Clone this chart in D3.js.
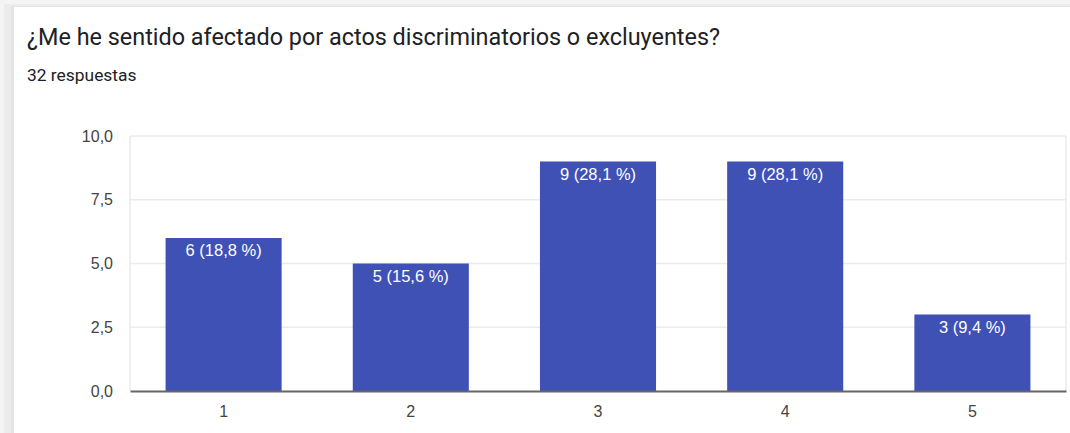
<!DOCTYPE html>
<html>
<head>
<meta charset="utf-8">
<script src="https://cdn.jsdelivr.net/npm/d3@7"></script>
<style>
	body { margin: 0; background: #f3f3f3; }
	svg { display: block; }
</style>
</head>
<body>
<div id="chart"></div>
<script>
// data
const categories = ["1", "2", "3", "4", "5"];
const counts = [6, 5, 9, 9, 3];
const percents = ["18,8", "15,6", "28,1", "28,1", "9,4"];
const yTicks = [0, 2.5, 5, 7.5, 10];
const title = "¿Me he sentido afectado por actos discriminatorios o excluyentes?";
const subtitle = "32 respuestas";

const width = 1070, height = 433;
const margin = {top: 136, right: 4, bottom: 42, left: 130};
const chartFont = "'Liberation Sans', Arial, sans-serif";

const svg = d3.select("#chart").append("svg")
	.attr("width", width)
	.attr("height", height);

// card background + shadow strips
svg.append("rect").attr("x", 0).attr("y", 0).attr("width", width).attr("height", height).attr("fill", "#f4f4f4");
svg.append("rect").attr("x", 4).attr("y", 4).attr("width", width).attr("height", height).attr("fill", "#ececec");
svg.append("rect").attr("x", 11).attr("y", 6).attr("width", width).attr("height", height).attr("fill", "#e4e4e4");
svg.append("rect").attr("x", 14).attr("y", 7).attr("width", width).attr("height", height).attr("fill", "#ffffff");

svg.append("text")
	.attr("x", 27).attr("y", 45)
	.attr("font-family", "Roboto, Arial, sans-serif")
	.attr("font-size", "23.4px")
	.attr("fill", "#202124")
	.text(title);

svg.append("text")
	.attr("x", 27).attr("y", 81)
	.attr("font-family", "Roboto, Arial, sans-serif")
	.attr("font-size", "17.4px")
	.attr("fill", "#202124")
	.text(subtitle);

const plotW = width - margin.left - margin.right;
const plotH = height - margin.top - margin.bottom;

const g = svg.append("g").attr("transform", `translate(${margin.left},${margin.top})`);

const x = d3.scaleBand()
	.domain(categories)
	.range([0, plotW])
	.paddingInner(0.38)
	.paddingOuter(0.19);

const y = d3.scaleLinear()
	.domain([0, 10])
	.range([plotH, 0]);

const fmt = d => d3.format(".1f")(d).replace(".", ",");

// gridlines
g.selectAll(".grid")
	.data(yTicks.filter(t => t > 0))
	.enter().append("line")
	.attr("x1", 0).attr("x2", plotW)
	.attr("y1", d => y(d)).attr("y2", d => y(d))
	.attr("stroke", "#ebebeb")
	.attr("stroke-width", 1.5);

g.append("line").attr("x1", 0).attr("x2", 0).attr("y1", 0).attr("y2", plotH)
	.attr("stroke", "#ebebeb").attr("stroke-width", 1.5);
g.append("line").attr("x1", plotW).attr("x2", plotW).attr("y1", 0).attr("y2", plotH)
	.attr("stroke", "#ebebeb").attr("stroke-width", 1.5);

// y axis labels
const yAxis = d3.axisLeft(y).tickValues(yTicks).tickFormat(fmt).tickSize(0).tickPadding(17);
g.append("g").call(yAxis)
	.call(s => s.select(".domain").remove())
	.selectAll("text")
	.attr("font-family", chartFont)
	.attr("font-size", "16px")
	.attr("fill", "#444");

// bars
g.selectAll(".bar")
	.data(counts)
	.enter().append("rect")
	.attr("x", (d, i) => x(categories[i]))
	.attr("y", d => y(d))
	.attr("width", x.bandwidth())
	.attr("height", d => plotH - y(d))
	.attr("fill", "#3f51b5");

g.selectAll(".lbl")
	.data(counts)
	.enter().append("text")
	.attr("x", (d, i) => x(categories[i]) + x.bandwidth() / 2)
	.attr("y", d => y(d) + 18)
	.attr("text-anchor", "middle")
	.attr("font-family", chartFont)
	.attr("font-size", "16.5px")
	.attr("fill", "#ffffff")
	.text((d, i) => d + " (" + percents[i] + " %)");

// x axis
const xAxis = d3.axisBottom(x).tickSize(0).tickPadding(15);
g.append("g").attr("transform", `translate(0,${plotH})`).call(xAxis)
	.call(s => s.select(".domain").attr("stroke", "#666").attr("stroke-width", 2))
	.selectAll("text")
	.attr("font-family", chartFont)
	.attr("font-size", "16px")
	.attr("fill", "#444");
</script>
</body>
</html>
